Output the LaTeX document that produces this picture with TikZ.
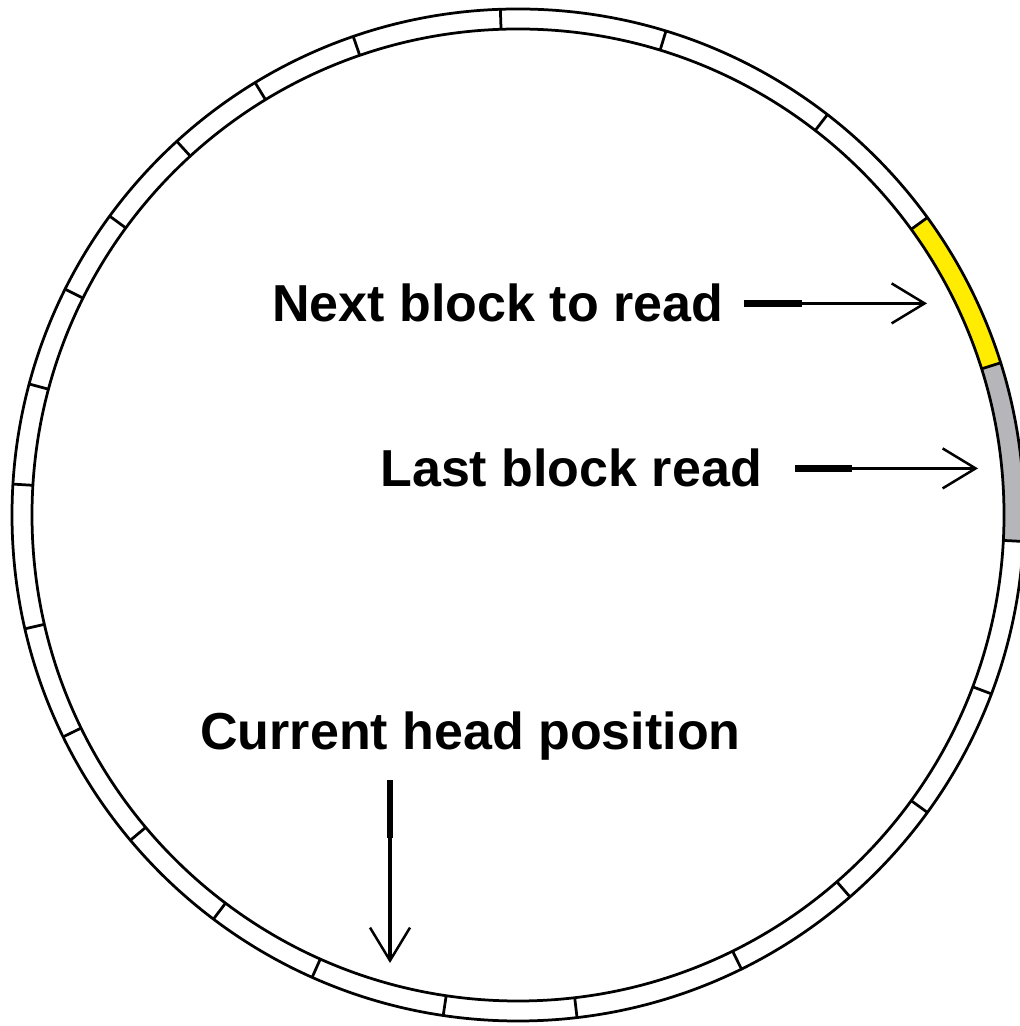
\documentclass[tikz,border=0pt]{standalone}
\usepackage{fontspec}
\setmainfont{Liberation Sans}
\usetikzlibrary{arrows.meta,calc}
\definecolor{blockyellow}{RGB}{255,236,0}
\definecolor{blockgray}{RGB}{182,182,186}

\begin{document}
\begin{tikzpicture}[x=0.02cm, y=0.02cm,
  blocktext/.style={font=\bfseries\fontsize{29.6}{35}\selectfont, inner sep=0pt, anchor=base west},
  pointer/.style={line width=0.07cm, -{Straight Barb[length=0.66cm, width=0.8cm, line width=0.05cm]}},
  stub/.style={line width=0.13cm},
  track/.style={line width=0.055cm}]
  \useasboundingbox (0,0) rectangle (1019,1026);

  % Track with its blocks
  \begin{scope}[shift={(518,511)}]
    % Last block read (grey) and next block to read (yellow)
    \fill[blockgray] (-3:486) arc[start angle=-3, end angle=17.5, radius=486]
      -- (17.5:506) arc[start angle=17.5, end angle=-3, radius=506] -- cycle;
    \fill[blockyellow] (17.5:486) arc[start angle=17.5, end angle=36, radius=486]
      -- (36:506) arc[start angle=36, end angle=17.5, radius=506] -- cycle;
    \draw[track] (0,0) circle[radius=506];
    \draw[track] (0,0) circle[radius=486];
    \foreach \a in {92,73,52.3,36,17.5,-3,-20.7,-36,-49,-63.8,-83.3,-98.5,-114,-127,-140,-154,-167,176.5,165,153.5,143.8,132.4,121.3,109}
      \draw[track] (\a:486) -- (\a:506);
  \end{scope}

  % Labels
  \node[blocktext] (next) at (272,704) {Next block to read};
  \node[blocktext] (last) at (380,539) {Last block read};
  \node[blocktext] (current) at (200,276) {Current head position};

  % Arrows
  \coordinate (nexttip) at (927,723);
  \coordinate (lasttip) at (978,554);
  \coordinate (headtip) at (390,63);
  \draw[pointer] (next.east) ++(20,0) -- (next.east -| nexttip);
  \draw[stub] (next.east) ++(20,0) -- ++(58,0);
  \draw[pointer] (last.east) ++(33,0) -- (last.east -| lasttip);
  \draw[stub] (last.east) ++(33,0) -- ++(57,0);
  \draw[pointer] (current.south -| headtip) ++(0,-19) -- (headtip);
  \draw[stub] (current.south -| headtip) ++(0,-19) -- ++(0,-58);
\end{tikzpicture}
\end{document}
